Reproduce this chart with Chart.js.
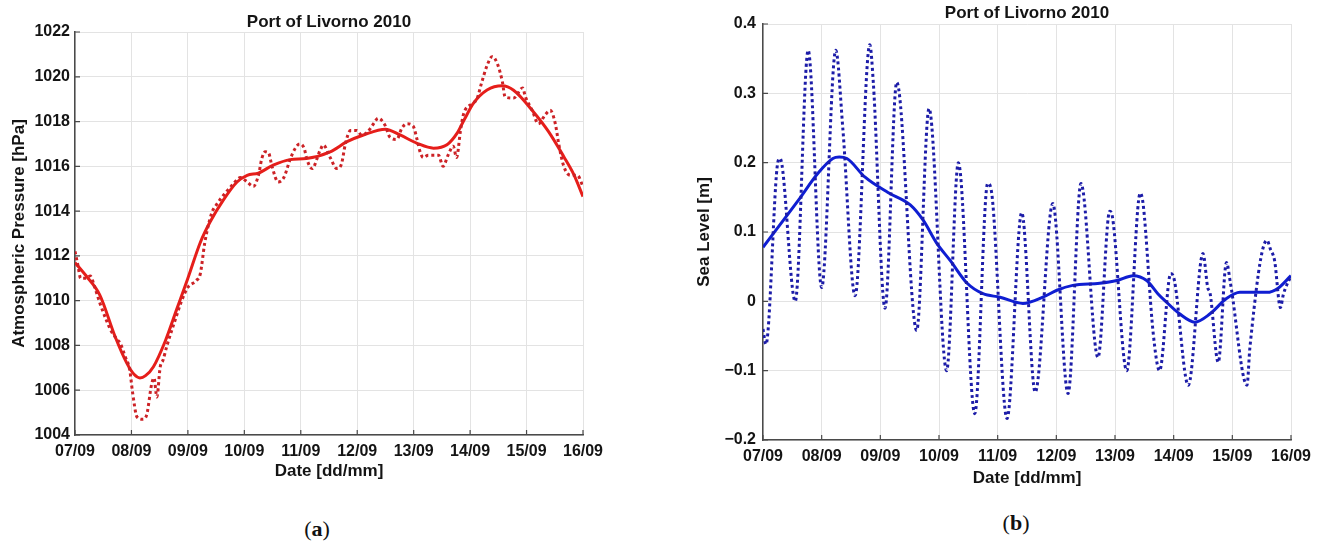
<!DOCTYPE html>
<html>
<head>
  <title>Port of Livorno 2010</title>
  <script src="https://cdn.jsdelivr.net/npm/chart.js"></script>
  <style>
    body { margin: 0; background: #fff; width: 1325px; height: 543px; position: relative; overflow: hidden; }
    canvas { position: absolute; top: 0; }
    .tag { position: absolute; font-family: "Liberation Serif", serif; font-size: 22px; color: #111; transform: translate(-50%, -50%); white-space: nowrap; }
  </style>
</head>
<body>
  <canvas id="pressureChart" width="620" height="500" style="left:0"></canvas>
  <canvas id="levelChart" width="645" height="500" style="left:680px"></canvas>
  <div class="tag" style="left:317px; top:529px">(<b>a</b>)</div>
  <div class="tag" style="left:1016px; top:523px">(<b>b</b>)</div>

  <script>
    // x = days since 07/09 00:00
    const dateLabels = ['07/09', '08/09', '09/09', '10/09', '11/09', '12/09', '13/09', '14/09', '15/09', '16/09'];

    // atmospheric pressure [hPa], hourly-ish readings (dotted)
    const pressureRawDays = [0, 0.05, 0.1, 0.2, 0.27, 0.35, 0.44, 0.56, 0.65, 0.77, 0.8, 0.89, 0.97, 1.02, 1.1, 1.2, 1.27,
      1.36, 1.4, 1.45, 1.51, 1.56, 1.63, 1.77, 1.89, 2.0, 2.15, 2.22, 2.3, 2.42, 2.51, 2.66, 2.8, 2.93, 3.05, 3.16, 3.25,
      3.31, 3.37, 3.43, 3.49, 3.6, 3.7, 3.81, 3.9, 3.98, 4.06, 4.11, 4.2, 4.34, 4.4, 4.52, 4.64, 4.72, 4.79, 4.88, 4.99,
      5.08, 5.17, 5.29, 5.37, 5.49, 5.58, 5.7, 5.79, 5.88, 5.99, 6.06, 6.12, 6.17, 6.26, 6.35, 6.44, 6.52, 6.61, 6.7,
      6.76, 6.83, 6.88, 7.03, 7.12, 7.2, 7.3, 7.39, 7.48, 7.57, 7.62, 7.77, 7.93, 7.98, 8.1, 8.21, 8.33, 8.42, 8.51,
      8.57, 8.66, 8.78, 8.9, 9.0];
    const pressureRaw = [1012.2, 1011.6, 1011.0, 1011.0, 1011.1, 1010.6, 1009.9, 1009.1, 1008.6, 1008.2, 1008.1, 1007.5,
      1006.9, 1005.9, 1004.8, 1004.7, 1004.9, 1006.3, 1006.55, 1005.7, 1007.05, 1007.35, 1008.0, 1009.1, 1010.0, 1010.6,
      1010.9, 1011.2, 1012.6, 1013.9, 1014.3, 1014.8, 1015.2, 1015.5, 1015.3, 1015.1, 1015.6, 1016.35, 1016.65, 1016.6,
      1016.0, 1015.3, 1015.5, 1016.3, 1016.8, 1017.0, 1016.8, 1016.3, 1015.9, 1016.7, 1016.95, 1016.4, 1015.9, 1016.1,
      1017.0, 1017.6, 1017.6, 1017.4, 1017.5, 1017.9, 1018.15, 1017.85, 1017.3, 1017.2, 1017.7, 1017.9, 1017.8, 1017.2,
      1016.6, 1016.4, 1016.5, 1016.5, 1016.5, 1016.0, 1016.5, 1016.9, 1016.4, 1017.6, 1018.3, 1018.8, 1019.0, 1019.7,
      1020.5, 1020.9, 1020.6, 1019.8, 1019.1, 1019.05, 1019.5, 1019.1, 1018.5, 1017.9, 1018.3, 1018.5, 1017.9, 1017.0,
      1016.0, 1015.6, 1015.6, 1015.1];

    // atmospheric pressure, low-pass filtered (solid)
    const pressureSmoothDays = [0, 0.2, 0.44, 0.71, 0.92, 1.05, 1.15, 1.25, 1.39, 1.6, 1.8, 2.0, 2.22, 2.39, 2.63, 2.87,
      3.05, 3.25, 3.51, 3.81, 4.1, 4.52, 4.82, 5.11, 5.5, 5.76, 6.06, 6.35, 6.59, 6.77, 6.9, 7.06, 7.3, 7.57, 7.77, 8.12,
      8.39, 8.66, 8.84, 9.0];
    const pressureSmooth = [1011.7, 1011.1, 1010.25, 1008.4, 1007.2, 1006.7, 1006.55, 1006.65, 1007.05, 1008.2, 1009.6,
      1011.0, 1012.6, 1013.5, 1014.5, 1015.3, 1015.6, 1015.7, 1016.05, 1016.3, 1016.35, 1016.65, 1017.1, 1017.4, 1017.66,
      1017.4, 1017.03, 1016.81, 1016.96, 1017.48, 1018.1, 1018.82, 1019.41, 1019.6, 1019.4, 1018.44, 1017.55, 1016.43,
      1015.62, 1014.65];

    // sea level [m], tide gauge readings (dotted)
    const levelRawDays = [0, 0.05, 0.24, 0.29, 0.55, 0.77, 1.0, 1.24, 1.36, 1.57, 1.82, 1.88, 2.08, 2.28, 2.62, 2.83, 3.13,
      3.33, 3.61, 3.83, 3.9, 4.16, 4.41, 4.64, 4.94, 5.2, 5.42, 5.71, 5.91, 5.96, 6.2, 6.43, 6.48, 6.65, 6.76, 6.95, 7.0,
      7.25, 7.5, 7.58, 7.62, 7.76, 7.9, 7.97, 8.25, 8.3, 8.59, 8.65, 8.72, 8.82, 8.87, 9.0];
    const levelRaw = [-0.04, -0.062, 0.193, 0.206, 0.0, 0.362, 0.02, 0.362, 0.25, 0.008, 0.37, 0.316, -0.01, 0.316,
      -0.042, 0.278, -0.1, 0.2, -0.162, 0.17, 0.155, -0.169, 0.128, -0.131, 0.141, -0.133, 0.17, -0.081, 0.13, 0.12, -0.1,
      0.156, 0.14, -0.045, -0.1, 0.04, 0.035, -0.121, 0.069, 0.02, 0.012, -0.088, 0.056, 0.025, -0.121, -0.066, 0.088,
      0.075, 0.059, -0.009, 0.01, 0.037];

    // sea level, low-pass filtered (solid)
    const levelSmoothDays = [0, 0.41, 0.63, 0.94, 1.19, 1.3, 1.43, 1.74, 2.13, 2.51, 2.73, 2.96, 3.19, 3.48, 3.75, 4.04,
      4.43, 4.77, 5.01, 5.28, 5.74, 6.03, 6.31, 6.54, 6.73, 6.85, 7.1, 7.36, 7.62, 7.9, 8.13, 8.59, 8.78, 9.0];
    const levelSmooth = [0.078, 0.124, 0.149, 0.185, 0.206, 0.208, 0.206, 0.179, 0.157, 0.139, 0.117, 0.084, 0.059, 0.026,
      0.011, 0.006, -0.003, 0.006, 0.016, 0.023, 0.026, 0.03, 0.037, 0.03, 0.011, 0.001, -0.018, -0.03, -0.018, 0.004,
      0.013, 0.013, 0.019, 0.037];

    const pts = (xs, ys) => xs.map((x, i) => ({ x: x, y: ys[i] }));
    const FONT = '"Liberation Sans", Arial, Helvetica, sans-serif';
    const INK = '#141414';

    // title centred over the plot box, like matlab
    const topTitle = {
      id: 'topTitle',
      afterDraw(chart, args, opts) {
        const { ctx, chartArea } = chart;
        ctx.save();
        ctx.font = 'bold 17px ' + FONT;
        ctx.fillStyle = INK;
        ctx.textAlign = 'center';
        ctx.textBaseline = 'middle';
        ctx.fillText(opts.text, (chartArea.left + chartArea.right) / 2, chartArea.top - opts.gap);
        ctx.restore();
      }
    };

    // small inward tick marks on left and bottom axes
    const innerTicks = {
      id: 'innerTicks',
      afterDraw(chart) {
        const { ctx, chartArea, scales } = chart;
        ctx.save();
        ctx.strokeStyle = '#4a4a4a';
        ctx.lineWidth = 1.2;
        ctx.beginPath();
        scales.x.ticks.forEach(t => {
          const px = scales.x.getPixelForValue(t.value);
          ctx.moveTo(px, chartArea.bottom);
          ctx.lineTo(px, chartArea.bottom - 5);
        });
        scales.y.ticks.forEach(t => {
          const py = scales.y.getPixelForValue(t.value);
          ctx.moveTo(chartArea.left, py);
          ctx.lineTo(chartArea.left + 5, py);
        });
        ctx.stroke();
        ctx.restore();
      }
    };

    function makeChart(id, cfg) {
      return new Chart(document.getElementById(id), {
        type: 'line',
        data: {
          datasets: [{
            data: pts(cfg.rawX, cfg.rawY),
            borderColor: cfg.dotColor,
            borderWidth: 3,
            borderDash: [3, 3],
            pointRadius: 0,
            cubicInterpolationMode: 'monotone'
          }, {
            data: pts(cfg.smoothX, cfg.smoothY),
            borderColor: cfg.lineColor,
            borderWidth: 3,
            pointRadius: 0,
            cubicInterpolationMode: 'monotone'
          }]
        },
        options: {
          responsive: false,
          animation: false,
          devicePixelRatio: 1,
          layout: { padding: cfg.padding },
          plugins: {
            legend: { display: false },
            tooltip: { enabled: false },
            topTitle: { text: 'Port of Livorno 2010', gap: cfg.titleGap }
          },
          scales: {
            x: {
              type: 'linear',
              min: 0,
              max: 9,
              afterFit(axis) { axis.height = cfg.xHeight; },
              grid: { color: '#e3e3e3', drawTicks: false },
              border: { display: true, color: '#4a4a4a', width: 1.5 },
              ticks: {
                stepSize: 1,
                padding: 7,
                color: INK,
                font: { family: FONT, size: 16, weight: 'bold' },
                callback: v => dateLabels[v]
              },
              title: {
                display: true,
                text: 'Date [dd/mm]',
                color: INK,
                font: { family: FONT, size: 17, weight: 'bold' },
                padding: { top: 0, bottom: 0 }
              }
            },
            y: {
              min: cfg.yMin,
              max: cfg.yMax,
              afterFit(axis) { axis.width = cfg.yWidth; },
              grid: { color: '#e3e3e3', drawTicks: false },
              border: { display: true, color: '#4a4a4a', width: 1.5 },
              ticks: {
                stepSize: cfg.yStep,
                padding: cfg.yTickPad,
                color: INK,
                font: { family: FONT, size: 16, weight: 'bold' },
                callback: cfg.yFormat
              },
              title: {
                display: true,
                text: cfg.yTitle,
                color: INK,
                font: { family: FONT, size: 17, weight: 'bold' },
                padding: { top: cfg.yTitlePad, bottom: 0 }
              }
            }
          }
        },
        plugins: [topTitle, innerTicks]
      });
    }

    makeChart('pressureChart', {
      rawX: pressureRawDays, rawY: pressureRaw,
      smoothX: pressureSmoothDays, smoothY: pressureSmooth,
      dotColor: '#cc2226', lineColor: '#e61e1a',
      padding: { top: 32, left: 0, right: 37, bottom: 18 },
      titleGap: 10, xHeight: 47, yWidth: 75, yTickPad: 5, yTitlePad: 9,
      yMin: 1004, yMax: 1022, yStep: 2,
      yTitle: 'Atmospheric Pressure [hPa]',
      yFormat: v => String(v)
    });

    makeChart('levelChart', {
      rawX: levelRawDays, rawY: levelRaw,
      smoothX: levelSmoothDays, smoothY: levelSmooth,
      dotColor: '#1c1ca8', lineColor: '#0f1ed2',
      padding: { top: 24, left: 0, right: 34, bottom: 11 },
      titleGap: 11, xHeight: 49, yWidth: 83, yTickPad: 7, yTitlePad: 14,
      yMin: -0.2, yMax: 0.4, yStep: 0.1,
      yTitle: 'Sea Level [m]',
      yFormat: v => {
        const r = Math.round(v * 10) / 10;
        if (r === 0) return '0';
        return (r < 0 ? '\u2212' : '') + Math.abs(r).toFixed(1);
      }
    });
  </script>
</body>
</html>
